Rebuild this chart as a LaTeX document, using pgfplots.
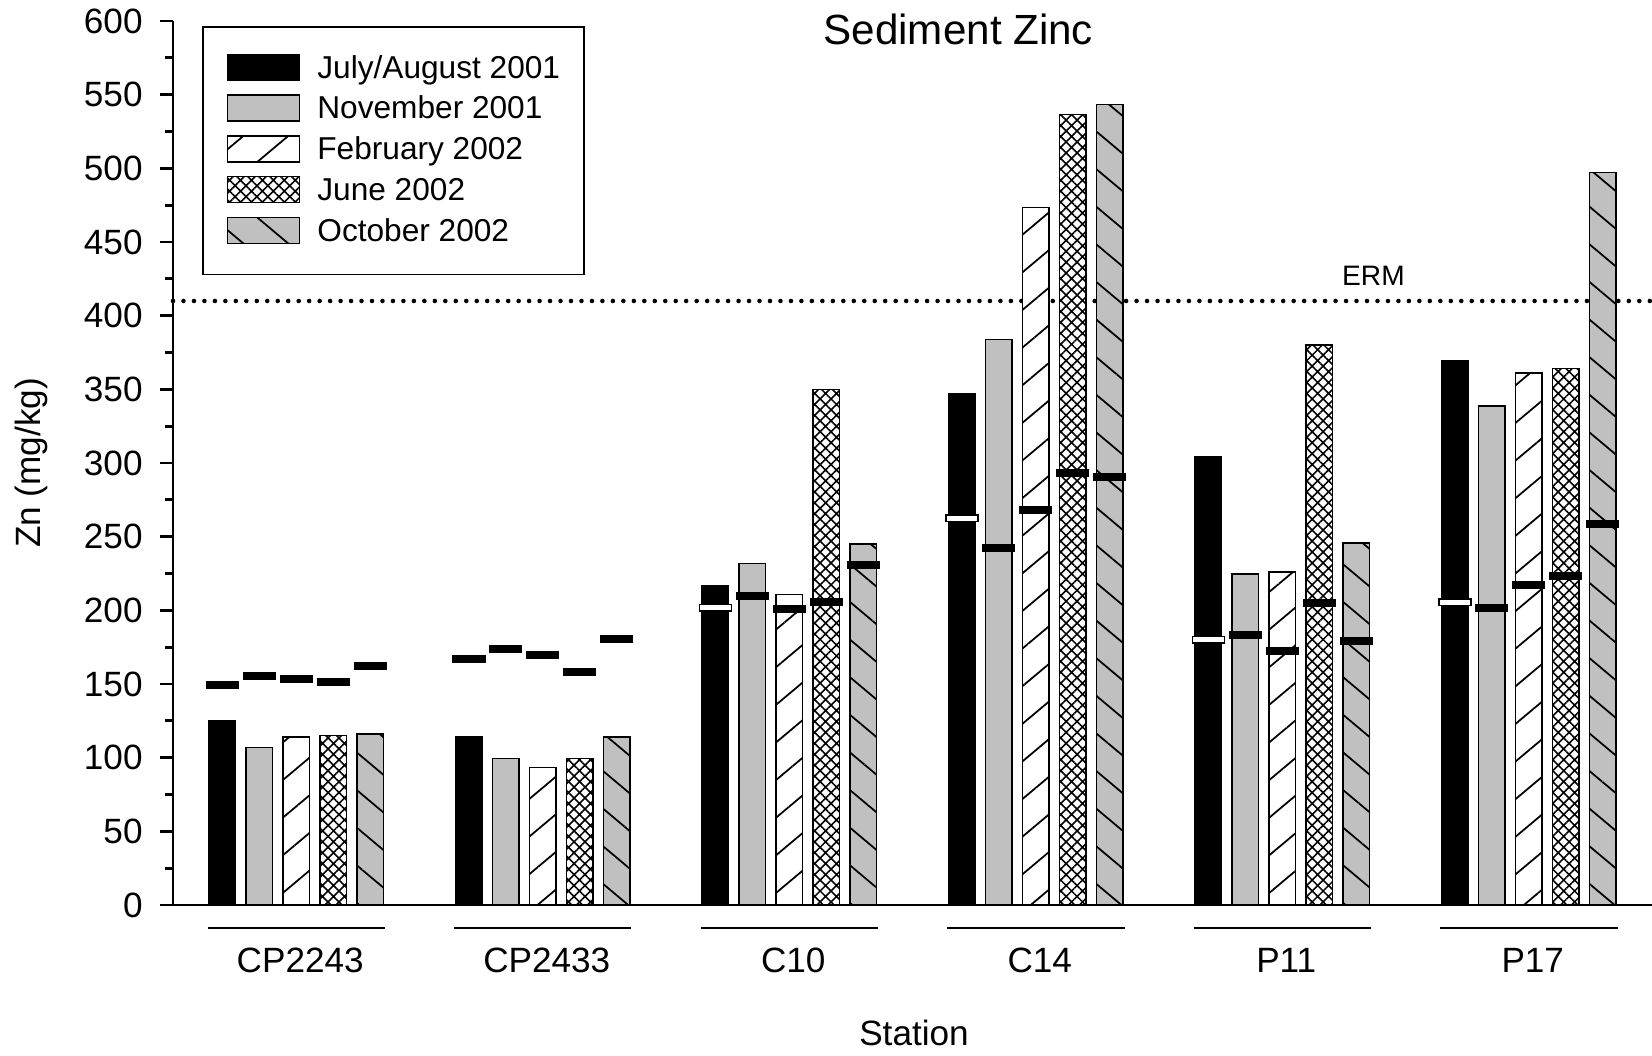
\documentclass[border=0pt]{standalone}
\usepackage{fontspec}
\setmainfont{Liberation Sans}
\usepackage{pgfplots}
\usepackage{pgfplotstable}
\pgfplotsset{compat=1.18}
\usetikzlibrary{patterns.meta}

% bar heights (mg/kg)
\pgfplotstableread{
st jul nov feb jun oct
0 125 107 114 115 116
1 114.5 99.3 93.2 99.3 114
2 217 231.8 210.7 350 245
3 347 384 473.5 536.5 543.5
4 304 224.8 226 380 245.7
5 369.6 338.6 361 364 497
}\bars

% horizontal dash markers
\pgfplotstableread{
st jul nov feb jun oct
0 149.5 155.2 153.3 151.1 162
1 166.8 173.5 169.9 158.1 180.3
2 201.7 210 201.2 206 230.6
3 262.5 242.1 268 293.3 290.8
4 180.2 183.3 172.4 204.9 179.2
5 205.5 201.8 217.3 223.1 258.9
}\means

\pgfdeclareplotmark{hdash}{%
  \pgfpathrectangle{\pgfpoint{-0.16cm}{-0.033cm}}{\pgfpoint{0.32cm}{0.066cm}}%
  \pgfusepathqfillstroke}

\definecolor{barg}{RGB}{192,192,192}

\tikzset{
  julb/.style={fill=black, draw=black, line width=0.4pt},
  novb/.style={fill=barg, draw=black, line width=0.4pt},
  febb/.style={fill=white, draw=black, line width=0.4pt,
    postaction={pattern={Lines[angle=40,distance=8.2pt,line width=0.5pt]}}},
  junb/.style={fill=white, draw=black, line width=0.4pt,
    postaction={pattern={Hatch[angle=45,distance=2.2pt,line width=0.45pt]}}},
  octb/.style={fill=barg, draw=black, line width=0.4pt,
    postaction={pattern={Lines[angle=-40,distance=8.2pt,line width=0.5pt]}}},
}

\begin{document}
\begin{tikzpicture}
\path[use as bounding box] (0,0) rectangle (16.52,10.55);
\begin{axis}[
  at={(1.73cm,1.50cm)}, anchor=south west,
  scale only axis, width=14.79cm, height=8.84cm,
  xmin=-0.5, xmax=5.5, ymin=0, ymax=600,
  axis x line=bottom, axis y line=left,
  axis line style={-, line width=0.8pt},
  ytick={0,50,...,600}, minor y tick num=1,
  tick align=outside, major tick length=0.13cm, minor tick length=0.08cm,
  every tick/.style={black, line width=0.8pt},
  xtick={0,...,5}, xticklabels={CP2243,CP2433,C10,C14,P11,P17},
  x tick style={draw=none},
  x tick label style={anchor=center, yshift=-0.423cm, xshift=0.04cm},
  y tick label style={xshift=-0.05cm},
  tick label style={font=\fontsize{10}{12}\selectfont},
  /pgf/number format/assume math mode=true,
  label style={font=\fontsize{12}{14}\selectfont},
  xlabel={Station}, ylabel={Zn (mg/kg)},
  every axis x label/.style={at={(axis description cs:0.501,-0.1442)}, anchor=center},
  every axis y label/.style={at={(axis description cs:-0.0956,0.5)}, rotate=90, anchor=center},
  clip=false,
  legend style={at={(0.0198,0.994)}, anchor=north west, draw=black,
    inner xsep=0.24cm, inner ysep=0.265cm, row sep=2.6pt,
    nodes={inner xsep=0pt, inner ysep=0pt, text height=7pt, text depth=2pt,
      font=\fontsize{9}{10}\selectfont},
    /tikz/every odd column/.append style={column sep=0.17cm}},
  legend cell align=left,
  legend image code/.code={\draw[#1] (0cm,-0.11cm) rectangle (0.72cm,0.15cm);},
]
% ERM guideline
\addplot[black, line width=1.3pt, line cap=round, dash pattern=on 0pt off 2.98pt, forget plot]
  coordinates {(-0.5,410) (5.5,410)};

\addplot[ybar, bar width=0.107, julb] table[x expr=\coordindex-0.3, y=jul]{\bars};
\addlegendentry{July/August 2001}
\addplot[ybar, bar width=0.107, novb] table[x expr=\coordindex-0.15, y=nov]{\bars};
\addlegendentry{November 2001}
\addplot[ybar, bar width=0.107, febb] table[x expr=\coordindex, y=feb]{\bars};
\addlegendentry{February 2002}
\addplot[ybar, bar width=0.107, junb] table[x expr=\coordindex+0.15, y=jun]{\bars};
\addlegendentry{June 2002}
\addplot[ybar, bar width=0.107, octb] table[x expr=\coordindex+0.3, y=oct]{\bars};
\addlegendentry{October 2002}

% dash markers
\addplot[only marks, mark=hdash, mark options={fill=black, draw=black, line width=0.4pt},
  skip coords between index={2}{6}, forget plot]
  table[x expr=\coordindex-0.3, y=jul]{\means};
\addplot[only marks, mark=hdash, mark options={fill=white, draw=black, line width=0.4pt},
  skip coords between index={0}{2}, forget plot]
  table[x expr=\coordindex-0.3, y=jul]{\means};
\addplot[only marks, mark=hdash, mark options={fill=black, draw=black, line width=0.4pt}, forget plot]
  table[x expr=\coordindex-0.15, y=nov]{\means};
\addplot[only marks, mark=hdash, mark options={fill=black, draw=black, line width=0.4pt}, forget plot]
  table[x expr=\coordindex, y=feb]{\means};
\addplot[only marks, mark=hdash, mark options={fill=black, draw=black, line width=0.4pt}, forget plot]
  table[x expr=\coordindex+0.15, y=jun]{\means};
\addplot[only marks, mark=hdash, mark options={fill=black, draw=black, line width=0.4pt}, forget plot]
  table[x expr=\coordindex+0.3, y=oct]{\means};

% group brackets under the axis
\draw[line width=0.6pt] (axis cs:-0.36,-15.3) -- (axis cs:0.36,-15.3);
\draw[line width=0.6pt] (axis cs:0.64,-15.3) -- (axis cs:1.36,-15.3);
\draw[line width=0.6pt] (axis cs:1.64,-15.3) -- (axis cs:2.36,-15.3);
\draw[line width=0.6pt] (axis cs:2.64,-15.3) -- (axis cs:3.36,-15.3);
\draw[line width=0.6pt] (axis cs:3.64,-15.3) -- (axis cs:4.36,-15.3);
\draw[line width=0.6pt] (axis cs:4.64,-15.3) -- (axis cs:5.36,-15.3);

\node[font=\fontsize{12}{14}\selectfont] at (rel axis cs:0.531,0.990) {Sediment Zinc};
\node[font=\fontsize{8}{9}\selectfont] at (axis cs:4.37,427) {ERM};
\end{axis}
\end{tikzpicture}
\end{document}
